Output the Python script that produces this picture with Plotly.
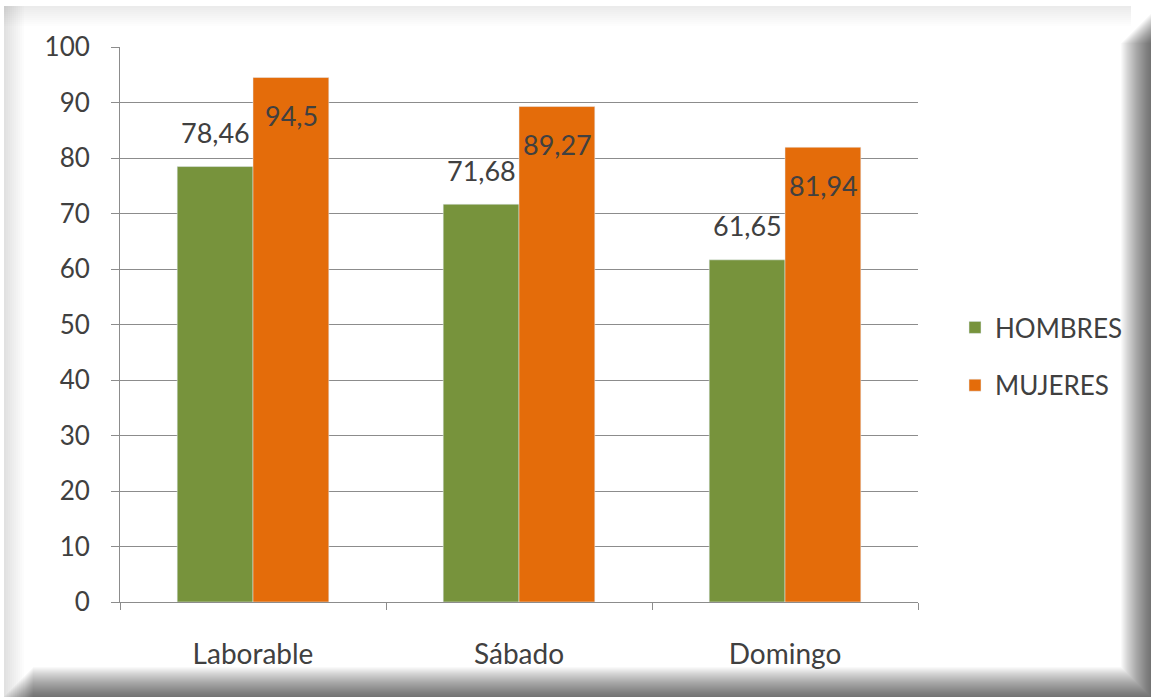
import plotly.graph_objects as go

categories = ["Laborable", "Sábado", "Domingo"]
hombres = [78.46, 71.68, 61.65]
mujeres = [94.5, 89.27, 81.94]
hombres_labels = ["78,46", "71,68", "61,65"]
mujeres_labels = ["94,5", "89,27", "81,94"]
y_ticks = [0, 10, 20, 30, 40, 50, 60, 70, 80, 90, 100]

W, H = 1151, 697
L, R, T, B = 120, 233, 47, 95
pw, ph = W - L - R, H - T - B

def px(x):
    return (x - L) / pw

def py(y):
    return (H - B - y) / ph

GREEN = "#77933C"
ORANGE = "#E46C0A"
FONT = "Lato, Open Sans, sans-serif"
TXT = "#404040"

fig = go.Figure()
fig.add_trace(go.Bar(x=categories, y=hombres, name="HOMBRES", marker_color=GREEN,
                     legendgroup="h"))
fig.add_trace(go.Bar(x=categories, y=mujeres, name="MUJERES", marker_color=ORANGE,
                     legendgroup="m"))

annotations = []
for c, v, t in zip(categories, hombres, hombres_labels):
    annotations.append(dict(x=c, y=v, text=t, showarrow=False, xshift=-38, yshift=34,
                            font=dict(size=27, color=TXT, family=FONT)))
for c, v, t in zip(categories, mujeres, mujeres_labels):
    annotations.append(dict(x=c, y=v, text=t, showarrow=False, xshift=38, yshift=-38,
                            font=dict(size=27, color=TXT, family=FONT)))

def rect(x0, y0, x1, y1, color):
    return dict(type="rect", xref="paper", yref="paper", layer="below",
                x0=px(x0), x1=px(x1), y0=py(y1), y1=py(y0),
                line=dict(width=0), fillcolor=color)

shapes = []
# faint top / left edge glow
for i in range(10):
    shapes.append(rect(4, 6, 4 + (i + 1) * 2, H, "rgba(0,0,0,0.010)"))
    shapes.append(rect(4, 6, W - 20, 6 + (i + 1) * 2, "rgba(0,0,0,0.008)"))
# right / bottom shadow (darkest at the outer edge)
N, s = 30, 1
for i in range(N):
    shapes.append(rect(W - (i + 1) * s, 14 + i, W, H, "rgba(0,0,0,0.022)"))
    shapes.append(rect(4 + i, H - (i + 1) * s, W - (i + 1) * s, H, "rgba(0,0,0,0.022)"))

fig.update_layout(
    width=W, height=H,
    margin=dict(l=L, r=R, t=T, b=B),
    paper_bgcolor="white",
    plot_bgcolor="rgba(0,0,0,0)",
    barmode="group",
    bargap=0.43,
    bargroupgap=0,
    font=dict(family=FONT, size=20, color=TXT),
    xaxis=dict(showline=True, linecolor="#8c8c8c", linewidth=1, ticks="outside",
               tickson="boundaries", ticklen=7, tickcolor="#8c8c8c",
               ticklabelstandoff=27,
               tickfont=dict(size=28, color=TXT, family=FONT), showgrid=False),
    yaxis=dict(range=[0, 100], tickvals=y_ticks, showline=True, linecolor="#8c8c8c",
               linewidth=1, ticks="outside", ticklen=8, tickcolor="#8c8c8c",
               ticklabelstandoff=16,
               showgrid=True, gridcolor="#8c8c8c", gridwidth=1, zeroline=False,
               tickfont=dict(size=26, color=TXT, family=FONT)),
    legend=dict(x=px(955), y=py(304), xanchor="left", yanchor="top",
                traceorder="grouped", tracegroupgap=21,
                font=dict(size=26, color=TXT, family=FONT),
                bgcolor="rgba(0,0,0,0)"),
    annotations=annotations,
    shapes=shapes,
)

fig.write_html("out.html", config={"displayModeBar": False},
               post_script="document.body.style.margin='0';")
